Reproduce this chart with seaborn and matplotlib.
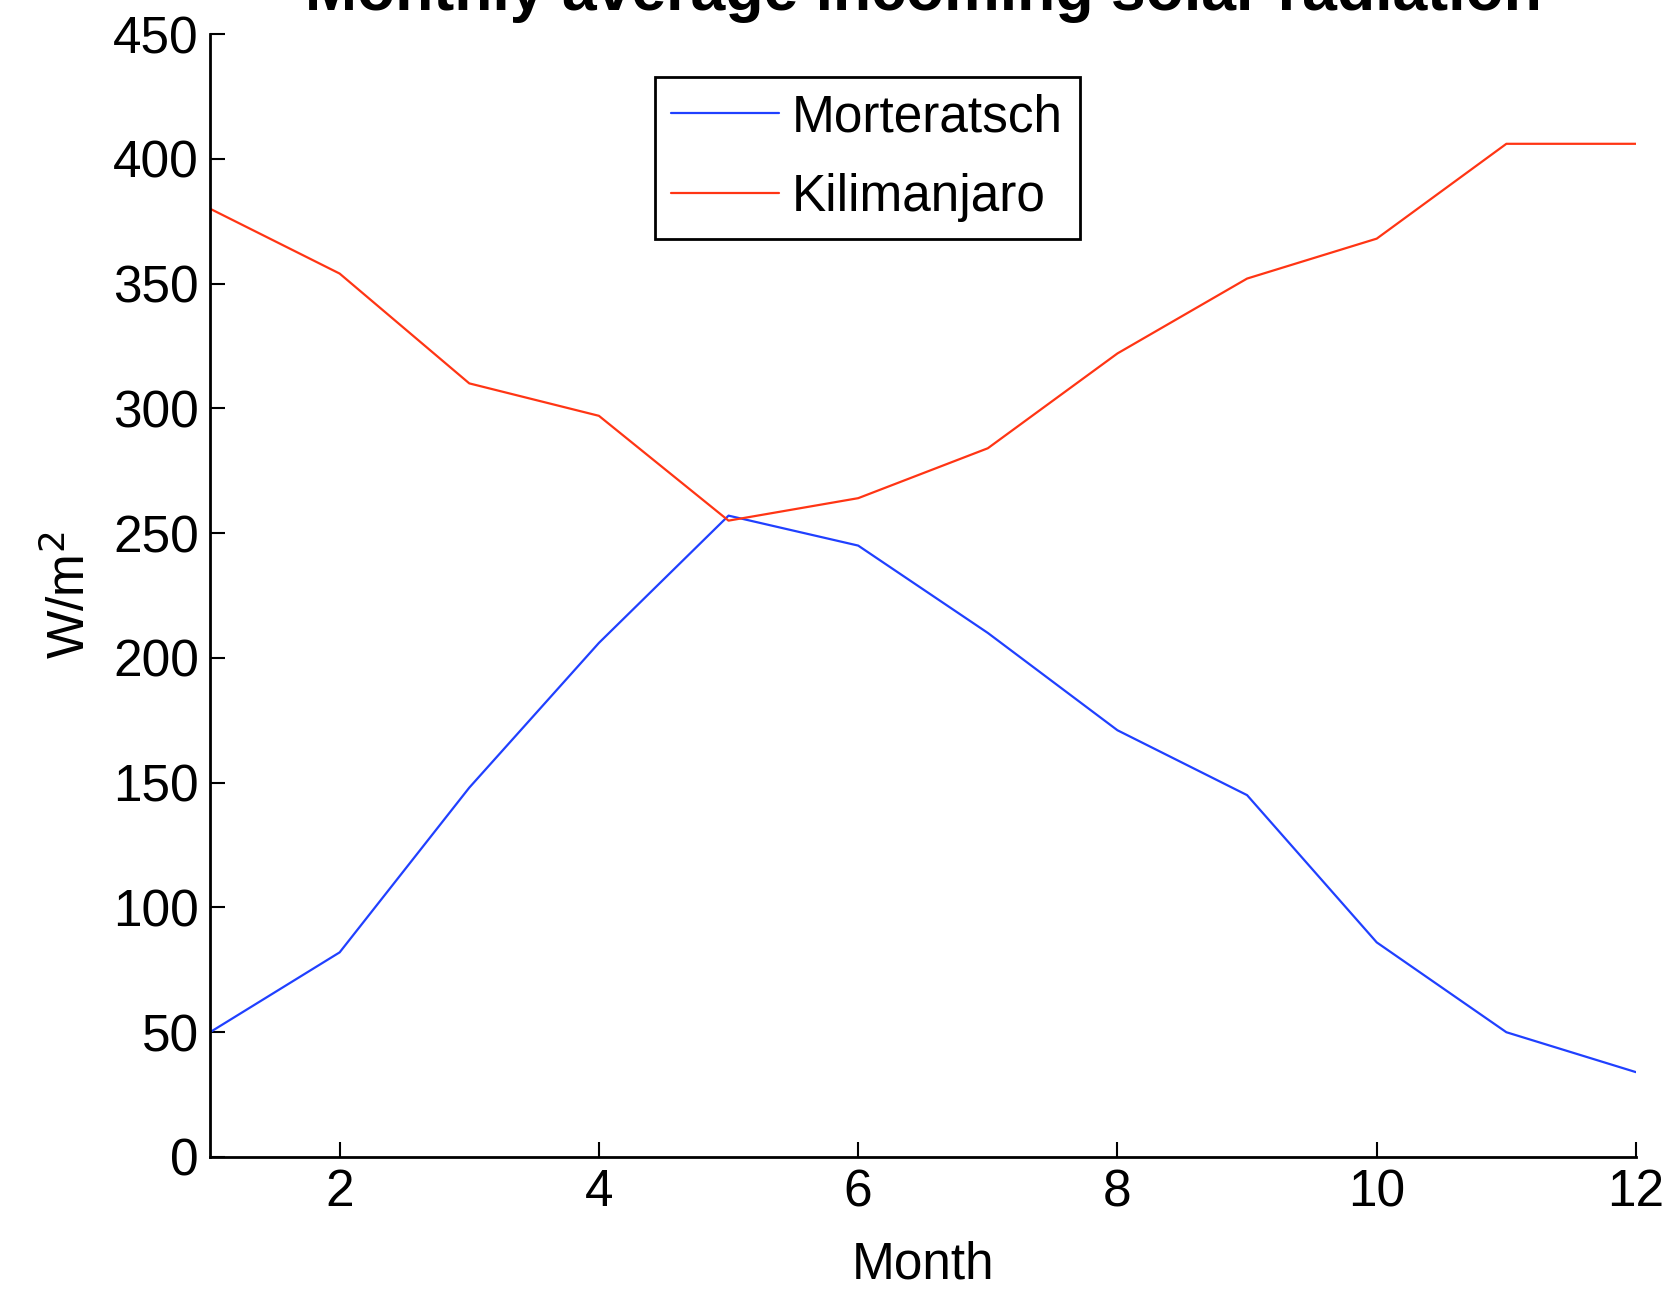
import numpy as np
import pandas as pd
import matplotlib
matplotlib.use("Agg")
import matplotlib.pyplot as plt
import seaborn as sns

months = [1, 2, 3, 4, 5, 6, 7, 8, 9, 10, 11, 12]
morteratsch = [50, 82, 148, 206, 257, 245, 210, 171, 145, 86, 50, 34]
kilimanjaro = [380, 354, 310, 297, 255, 264, 284, 322, 352, 368, 406, 406]
series_names = ["Morteratsch", "Kilimanjaro"]
series_colors = ["#2040ff", "#ff3514"]
yticks = [0, 50, 100, 150, 200, 250, 300, 350, 400, 450]
xticks = [2, 4, 6, 8, 10, 12]

df = pd.DataFrame({
    "Month": months * 2,
    "value": morteratsch + kilimanjaro,
    "site": [series_names[0]] * len(months) + [series_names[1]] * len(months),
})

sns.set_style("ticks")
plt.rcParams["font.family"] = ["Liberation Sans", "DejaVu Sans"]
plt.rcParams["text.color"] = "black"
plt.rcParams["axes.labelcolor"] = "black"
plt.rcParams["xtick.color"] = "black"
plt.rcParams["ytick.color"] = "black"

fig = plt.figure(figsize=(16.77, 12.92), dpi=100)
ax = fig.add_axes([210 / 1677, 135 / 1292, 1426 / 1677, 1123 / 1292])

sns.lineplot(data=df, x="Month", y="value", hue="site", hue_order=series_names,
             palette=series_colors, linewidth=1.6, ax=ax, legend=False)

ax.set_xlim(1, 12)
ax.set_ylim(0, 450)
ax.set_xticks(xticks)
ax.set_yticks(yticks)
ax.tick_params(direction="in", length=11, width=1.5, labelsize=37, pad=8,
               colors="black")
for s in ["top", "right"]:
    ax.spines[s].set_visible(False)
for s in ["left", "bottom"]:
    ax.spines[s].set_linewidth(2)
    ax.spines[s].set_color("black")

ax.set_xlabel("Month", fontsize=37, labelpad=17, color="black")
ax.set_ylabel("W/m$^2$", fontsize=37, labelpad=12, color="black")

handles = [plt.Line2D([], [], color=c, lw=1.6) for c in series_colors]
leg = ax.legend(handles, series_names, loc="upper left",
                bbox_to_anchor=(655 / 1677, 1 - 77 / 1292),
                bbox_transform=fig.transFigure, fontsize=37, frameon=True,
                fancybox=False, edgecolor="black", framealpha=1,
                handlelength=2.1, handletextpad=0.25, borderpad=0.32,
                labelspacing=0.6, borderaxespad=0)
leg.get_frame().set_linewidth(2)
for t in leg.get_texts():
    t.set_color("black")

fig.text(923 / 1677, 1 - 10 / 1292, "Monthly average incoming solar radiation",
         ha="center", va="baseline", fontsize=45, fontweight="bold",
         color="black")

fig.savefig("out.png", dpi=100)
